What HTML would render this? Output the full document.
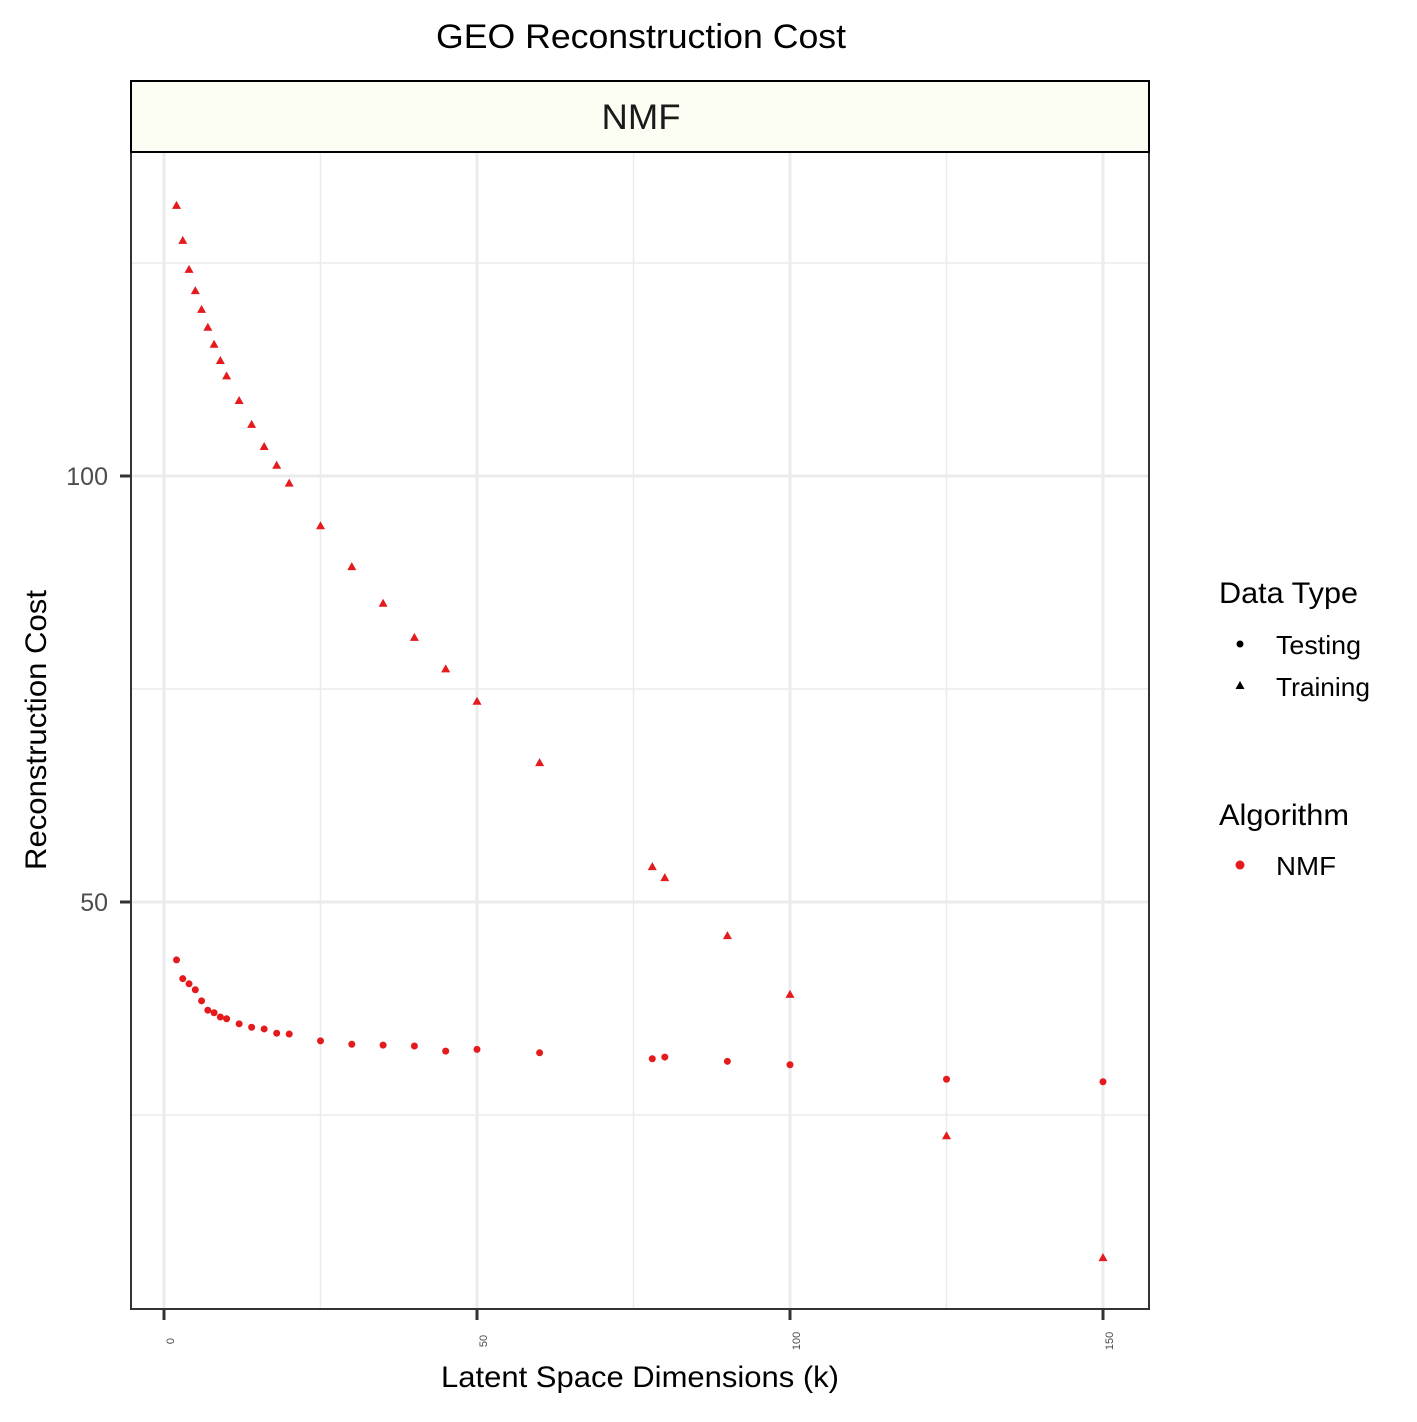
<!DOCTYPE html>
<html><head><meta charset="utf-8"><style>
body{margin:0;background:#fff}
svg text{font-family:"Liberation Sans",Arial,sans-serif}
</style></head><body>
<svg id="c" width="1417" height="1417" viewBox="0 0 1417 1417" xmlns="http://www.w3.org/2000/svg">
<rect width="1417" height="1417" fill="#fff"/>
<text x="641" y="48" font-size="34" text-anchor="middle" fill="#000" textLength="410" lengthAdjust="spacingAndGlyphs">GEO Reconstruction Cost</text>
<g id="grid"></g>
<rect x="131" y="152" width="1018" height="1157" fill="none" stroke="#333" stroke-width="2"/>
<rect x="131" y="81" width="1018" height="71" fill="#fdfef3" stroke="#000" stroke-width="2"/>
<text x="641" y="129" font-size="35" text-anchor="middle" fill="#1a1a1a" textLength="79" lengthAdjust="spacingAndGlyphs">NMF</text>
<g id="marks"></g>
<g id="axes"></g>
<text x="640" y="1387" font-size="30" text-anchor="middle" fill="#000" textLength="398" lengthAdjust="spacingAndGlyphs">Latent Space Dimensions (k)</text>
<text transform="translate(46,730) rotate(-90)" font-size="30" text-anchor="middle" fill="#000" textLength="280" lengthAdjust="spacingAndGlyphs">Reconstruction Cost</text>
<g>
<text x="1219" y="603" font-size="30" fill="#000" textLength="139" lengthAdjust="spacingAndGlyphs">Data Type</text>
<circle cx="1240" cy="644" r="3.5" fill="#000"/>
<text x="1276" y="654" font-size="26" fill="#000" textLength="85" lengthAdjust="spacingAndGlyphs">Testing</text>
<path d="M1240,681 L1244.5,689 L1235.5,689 Z" fill="#000"/>
<text x="1276" y="696" font-size="26" fill="#000" textLength="94" lengthAdjust="spacingAndGlyphs">Training</text>
<text x="1219" y="825" font-size="30" fill="#000" textLength="130" lengthAdjust="spacingAndGlyphs">Algorithm</text>
<circle cx="1240" cy="865" r="4.5" fill="#e41a1c"/>
<text x="1276" y="875" font-size="26" fill="#000" textLength="60" lengthAdjust="spacingAndGlyphs">NMF</text>
</g>
</svg>
<script>
const kValues=[2,3,4,5,6,7,8,9,10,12,14,16,18,20,25,30,35,40,45,50,60,78,80,90,100,125,150];
const trainingCost=[131.7,127.6,124.2,121.7,119.5,117.4,115.4,113.5,111.7,108.8,106.0,103.4,101.2,99.1,94.1,89.3,85.0,81.0,77.3,73.5,66.3,54.1,52.8,46.0,39.1,22.5,8.2];
const testingCost=[43.2,41.0,40.4,39.7,38.4,37.3,37.0,36.5,36.3,35.7,35.3,35.1,34.6,34.5,33.7,33.3,33.2,33.1,32.5,32.7,32.3,31.6,31.8,31.3,30.9,29.2,28.9];
const xTicks=[0,50,100,150];
const xMinor=[25,75,125];
const yTicks=[50,100];
const yMinor=[25,75,125];
const NS="http://www.w3.org/2000/svg";
const x=v=>164+v*(1103-164)/150;
const y=v=>476+(100-v)*(902-476)/50;
function mk(t,a,p){const e=document.createElementNS(NS,t);for(const k in a)e.setAttribute(k,a[k]);p.appendChild(e);return e;}
const grid=document.getElementById('grid'),marks=document.getElementById('marks'),axes=document.getElementById('axes');
yMinor.forEach(v=>{const l=mk('line',{x1:131,x2:1149,y1:y(v),y2:y(v),stroke:'#ebebeb','stroke-width':1.5},grid);

});
xMinor.forEach(v=>{const l=mk('line',{x1:x(v),x2:x(v),y1:152,y2:1309,stroke:'#ebebeb','stroke-width':1.5},grid);

});
yTicks.forEach(v=>{const l=mk('line',{x1:131,x2:1149,y1:y(v),y2:y(v),stroke:'#ebebeb','stroke-width':3},grid);


const t=mk('line',{x1:120,x2:131,y1:y(v),y2:y(v),stroke:'#333','stroke-width':3},axes);


const tx=mk('text',{x:108,y:y(v)+9,'font-size':25,'text-anchor':'end',fill:'#4d4d4d'},axes);tx.textContent=v;

});
xTicks.forEach(v=>{const l=mk('line',{x1:x(v),x2:x(v),y1:152,y2:1309,stroke:'#ebebeb','stroke-width':3},grid);


const t=mk('line',{x1:x(v),x2:x(v),y1:1309,y2:1320,stroke:'#333','stroke-width':3},axes);


const tx=mk('text',{transform:`translate(${x(v)+10},1341) rotate(-90)`,'font-size':11,'text-anchor':'middle',fill:'#4d4d4d'},axes);tx.textContent=v;

});
kValues.forEach((k,i)=>{const cx=x(k),ty=y(trainingCost[i]);
const p=mk('path',{d:`M${cx},${ty-5} L${cx+4.5},${ty+3} L${cx-4.5},${ty+3} Z`,fill:'#e41a1c'},marks);


const c=mk('circle',{cx:cx,cy:y(testingCost[i]),r:3.5,fill:'#e41a1c'},marks);

});
</script>
</body></html>
